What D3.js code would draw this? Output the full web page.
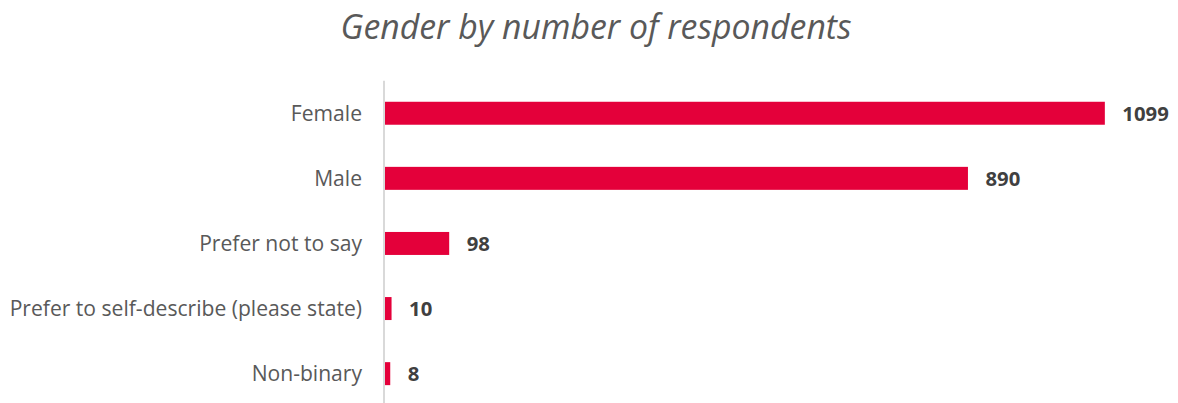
<!DOCTYPE html>
<html>
<head>
<meta charset="utf-8">
<script src="https://cdn.jsdelivr.net/npm/d3@7"></script>
<style>
  html, body { margin: 0; padding: 0; background: #fff; }
  svg { display: block; }
</style>
</head>
<body>
<div id="chart"></div>
<script>
const title = "Gender by number of respondents";
const categories = ["Female", "Male", "Prefer not to say", "Prefer to self-describe (please state)", "Non-binary"];
const values = [1099, 890, 98, 10, 8];

const W = 1178, H = 403;
const svg = d3.select("#chart").append("svg").attr("width", W).attr("height", H);

const x = d3.scaleLinear().domain([0, 1200]).range([385, 1171]);
const y = d3.scaleBand().domain(categories).range([80.7, 406.2]).paddingInner(0.647).paddingOuter(0.3235);

svg.append("text")
  .attr("x", 596).attr("y", 38.5)
  .attr("text-anchor", "middle")
  .attr("font-family", "'Open Sans', sans-serif")
  .attr("font-style", "italic")
  .attr("font-size", 33.8)
  .attr("fill", "#595959")
  .text(title);

// bars
svg.selectAll("rect.bar").data(categories).enter().append("rect")
  .attr("class", "bar")
  .attr("x", x(0))
  .attr("y", d => y(d))
  .attr("width", (d, i) => x(values[i]) - x(0))
  .attr("height", y.bandwidth())
  .attr("fill", "#E4003A");

// axis
const yAxis = d3.axisLeft(y).tickSize(0).tickPadding(22);
const gA = svg.append("g").attr("transform", "translate(384,0)").call(yAxis);
gA.select(".domain").attr("stroke", "#d9d9d9").attr("stroke-width", 2)
  .attr("d", `M0,${y.range()[0]}V${H + 5}`);
gA.selectAll(".tick text")
  .attr("font-family", "'Open Sans', sans-serif")
  .attr("font-size", 21.1)
  .attr("fill", "#595959")
  .attr("dy", "0.36em");

// value labels
svg.selectAll("text.val").data(categories).enter().append("text")
  .attr("class", "val")
  .attr("x", (d, i) => x(values[i]) + 17.5)
  .attr("y", d => y(d) + y.bandwidth() / 2)
  .attr("dy", "0.36em")
  .attr("font-family", "'Open Sans', sans-serif")
  .attr("font-weight", "bold")
  .attr("font-size", 20.3)
  .attr("fill", "#404040")
  .text((d, i) => values[i]);
</script>
</body>
</html>
